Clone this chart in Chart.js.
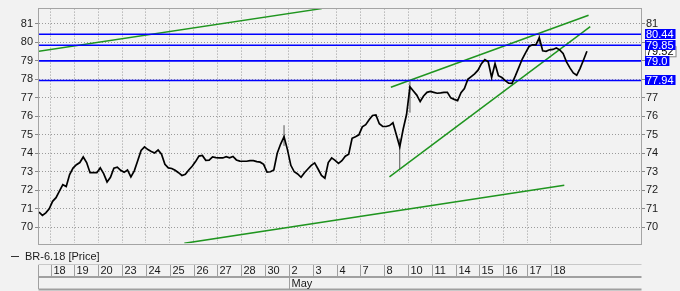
<!DOCTYPE html>
<html>
<head>
<meta charset="utf-8">
<script src="https://cdn.jsdelivr.net/npm/chart.js@4"></script>
<style>
html, body { margin: 0; padding: 0; background: #f2f2f2; }
</style>
</head>
<body>
<canvas id="chart" width="680" height="291"></canvas>
<script>
// trading days shown on the axis (April then May)
const dayLabels = ['18','19','20','23','24','25','26','27','28','30','2','3','4','7','8','10','11','14','15','16','17','18'];
const monthName = 'May';
const monthStartDay = 10; // index of "2"

// closes, 7 bars per day, first bar half a day before the 18th
const firstBar = -0.49;
const barsPerDay = 7;
const closes = [
  70.82, 70.64, 70.78, 71.0, 71.4, 71.6, 71.95, 72.3, 72.2, 72.85,
  73.2, 73.38, 73.5, 73.8, 73.5, 72.95, 72.95, 72.95, 73.21, 72.9,
  72.45, 72.7, 73.2, 73.25, 73.08, 72.97, 73.1, 72.72, 73.05, 73.6,
  74.15, 74.35, 74.2, 74.1, 74.02, 74.18, 73.95, 73.4, 73.21, 73.18,
  73.08, 72.95, 72.8, 72.86, 73.1, 73.3, 73.55, 73.85, 73.88, 73.62,
  73.63, 73.8, 73.77, 73.75, 73.75, 73.82, 73.76, 73.83, 73.64, 73.58,
  73.57, 73.57, 73.6, 73.6, 73.55, 73.52, 73.4, 72.98, 73.0, 73.1,
  74.0, 74.5, 74.9, 74.2, 73.35, 73.0, 72.88, 72.7, 72.95, 73.15,
  73.35, 73.48, 73.15, 72.8, 72.65, 73.5, 73.75, 73.62, 73.45, 73.6,
  73.84, 73.95, 74.81, 74.9, 75.0, 75.43, 75.55, 75.82, 76.05, 76.08,
  75.6, 75.45, 75.45, 75.5, 75.65, 75.0, 74.35, 75.3, 76.1, 77.6,
  77.37, 77.15, 76.8, 77.1, 77.3, 77.35, 77.3, 77.25, 77.27, 77.3,
  77.3, 77.0, 76.92, 76.85, 77.28, 77.5, 78.0, 78.15, 78.3, 78.5,
  78.85, 79.07, 78.95, 78.1, 78.85, 78.2, 78.1, 77.93, 77.8, 77.78,
  78.2, 78.65, 79.1, 79.45, 79.78, 79.87, 79.87, 80.25, 79.55, 79.52,
  79.6, 79.62, 79.7, 79.6, 79.4, 78.95, 78.62, 78.35, 78.22, 78.6,
  79.05, 79.52
];

// the long wicks that stand out
const wickBars = [72, 106, 109, 147];
const wickLow = [74.4, 73.15, 76.2, 79.9];
const wickHigh = [75.52, 74.8, 77.9, 80.5];

// horizontal levels and the last price
const levels = [80.44, 79.85, 79.0, 77.94];
const levelText = ['80.44', '79.85', '79.0', '77.94'];
const lastPrice = 79.52;

// trend lines: [dayStart, priceStart, dayEnd, priceEnd]
const trendLines = [
  [-0.52, 79.52, 11.38, 81.83],
  [14.28, 77.57, 22.58, 81.47],
  [14.22, 72.72, 22.65, 80.85],
  [5.61, 69.13, 21.56, 72.27]
];

const xMin = -0.49, xMax = 24.78;
const yMin = 69.13, yMax = 81.83;

Chart.defaults.font.family = '"Liberation Sans", Arial, sans-serif';
Chart.defaults.font.size = 11;
Chart.defaults.color = '#1a1a1a';

let priceData = closes.map((c, i) => ({ x: firstBar + i / barsPerDay, y: c }));
let wickData = [];
for (let i = 0; i < wickBars.length; i++) {
  let x = firstBar + wickBars[i] / barsPerDay;
  wickData.push({ x: x, y: wickLow[i] }, { x: x, y: wickHigh[i] }, { x: x, y: null });
}

let datasets = [
  { data: priceData, borderColor: '#000', borderWidth: 1.7 },
  { data: wickData, borderColor: '#555', borderWidth: 1, spanGaps: false }
];
levels.forEach(v => {
  datasets.push({ data: [{ x: xMin, y: v }, { x: xMax, y: v }], borderColor: '#0000ff', borderWidth: 1.6 });
});
trendLines.forEach(t => {
  datasets.push({ data: [{ x: t[0], y: t[1] }, { x: t[2], y: t[3] }], borderColor: '#1f951f', borderWidth: 1.5 });
});

function line(ctx, x1, y1, x2, y2) {
  ctx.beginPath();
  ctx.moveTo(x1, y1);
  ctx.lineTo(x2, y2);
  ctx.stroke();
}

const frame = {
  id: 'frame',
  beforeDraw(chart) {
    let ctx = chart.ctx;
    ctx.save();
    ctx.fillStyle = '#f2f2f2';
    ctx.fillRect(0, 0, chart.width, chart.height);
    ctx.restore();
  },
  afterDraw(chart) {
    let ctx = chart.ctx, a = chart.chartArea;
    let xs = chart.scales.x, ys = chart.scales.y;
    ctx.save();
    ctx.strokeStyle = '#a4a4a4';
    ctx.lineWidth = 1;
    ctx.strokeRect(Math.round(a.left) - 0.5, Math.round(a.top) - 0.5, Math.round(a.right - a.left) + 1, Math.round(a.bottom - a.top) + 1);

    // legend
    ctx.strokeStyle = '#333';
    line(ctx, 11, 256.5, 19, 256.5);
    ctx.fillStyle = '#1a1a1a';
    ctx.font = '11px "Liberation Sans", Arial, sans-serif';
    ctx.textBaseline = 'middle';
    ctx.textAlign = 'left';
    ctx.fillText('BR-6.18 [Price]', 25, 257);

    // date header
    let left = Math.round(a.left) - 0.5, right = Math.round(a.right) + 0.5;
    ctx.strokeStyle = '#c8c8c8';
    line(ctx, left, 264.5, right, 264.5);
    ctx.strokeStyle = '#a0a0a0';
    ctx.lineWidth = 2;
    line(ctx, left, 277, right, 277);
    line(ctx, left, 289.5, right, 289.5);
    ctx.lineWidth = 1;
    line(ctx, left, 265, left, 289);
    for (let i = 0; i < dayLabels.length; i++) {
      let px = Math.round(xs.getPixelForValue(i)) + 0.5;
      line(ctx, px, 265, px, 276);
      ctx.fillText(dayLabels[i], px + 2, 271);
    }
    let mx = Math.round(xs.getPixelForValue(monthStartDay)) + 0.5;
    line(ctx, mx, 278, mx, 289);
    ctx.fillText(monthName, mx + 2, 283.5);

    // price boxes on the right axis
    let bx = 645;
    let yl = ys.getPixelForValue(lastPrice);
    let wl = ctx.measureText('79.52').width + 3;
    ctx.fillStyle = '#ffffff';
    ctx.fillRect(bx, yl - 5, wl, 10);
    ctx.strokeStyle = '#888';
    ctx.strokeRect(bx + 0.5, yl - 4.5, wl, 10);
    ctx.fillStyle = '#000';
    ctx.fillText('79.52', bx + 1, yl + 0.5);
    for (let i = 0; i < levels.length; i++) {
      let y = ys.getPixelForValue(levels[i]);
      let w = ctx.measureText(levelText[i]).width + 3;
      ctx.fillStyle = '#0000ff';
      ctx.fillRect(bx, Math.round(y) - 5, w, 10);
      ctx.fillStyle = '#ffffff';
      ctx.fillText(levelText[i], bx + 1, Math.round(y) + 0.5);
    }
    ctx.restore();
  }
};

const intTicks = s => {
  s.ticks = [];
  for (let v = 70; v <= 81; v++) s.ticks.push({ value: v });
};

new Chart(document.getElementById('chart'), {
  type: 'line',
  data: { datasets: datasets },
  options: {
    responsive: false,
    animation: false,
    events: [],
    layout: { padding: { top: 5, bottom: 47.7, left: 0, right: 0 } },
    elements: { point: { radius: 0 }, line: { tension: 0 } },
    plugins: { legend: { display: false }, tooltip: { enabled: false } },
    scales: {
      x: {
        type: 'linear', min: xMin, max: xMax,
        afterBuildTicks: s => {
          s.ticks = [];
          for (let i = 0; i < dayLabels.length; i++) s.ticks.push({ value: i });
        },
        afterFit: s => { s.height = 0; },
        ticks: { display: false },
        border: { display: false, dash: [1, 2] },
        grid: { color: '#9a9a9a', drawTicks: false }
      },
      y: {
        position: 'left', min: yMin, max: yMax,
        afterBuildTicks: intTicks,
        afterFit: s => { s.width = 39; },
        ticks: { padding: 2, callback: v => v },
        border: { display: false, dash: [1, 2] },
        grid: { color: '#9a9a9a', tickLength: 4, tickBorderDash: [], tickColor: '#888' }
      },
      y2: {
        position: 'right', min: yMin, max: yMax,
        afterBuildTicks: intTicks,
        afterFit: s => { s.width = 39; },
        ticks: { padding: 1, callback: v => (v >= 78 && v <= 80) ? '' : v },
        border: { display: false },
        grid: { drawOnChartArea: false, tickLength: 4, tickColor: '#888' }
      }
    }
  },
  plugins: [frame]
});
</script>
</body>
</html>
